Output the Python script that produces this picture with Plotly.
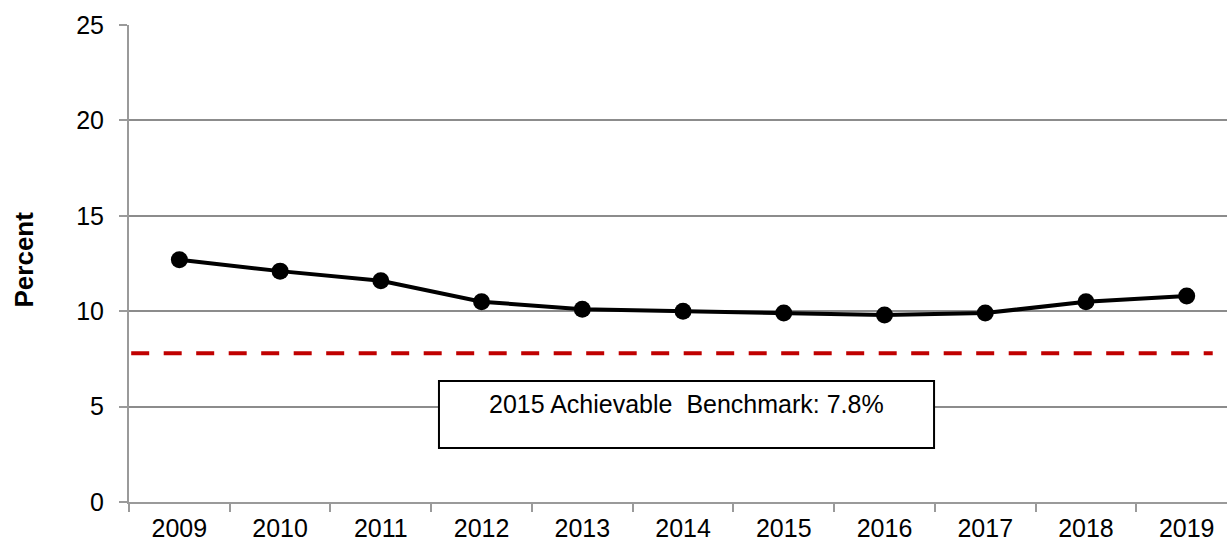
import plotly.graph_objects as go

# Annual rates (percent)
years = ["2009", "2010", "2011", "2012", "2013", "2014",
         "2015", "2016", "2017", "2018", "2019"]
percent = [12.7, 12.1, 11.6, 10.5, 10.1, 10.0, 9.9, 9.8, 9.9, 10.5, 10.8]

# Achievable benchmark
benchmark_value = 7.8
benchmark_label = "2015 Achievable  Benchmark: 7.8%"

y_ticks = [0, 5, 10, 15, 20, 25]

FONT = "Liberation Sans, Arial, sans-serif"
GRID = "#8c8c8c"
AXIS = "#9a9a9a"
SIZE = 25

fig = go.Figure()

fig.add_trace(go.Scatter(
    x=years, y=percent,
    mode="lines+markers",
    line=dict(color="black", width=4),
    marker=dict(color="black", size=17),
    showlegend=False,
    hoverinfo="x+y",
))

# Benchmark reference line
fig.add_shape(
    type="line", xref="paper", yref="y",
    x0=0.002, x1=0.987, y0=benchmark_value, y1=benchmark_value,
    line=dict(color="#c00000", width=4, dash="18px,14.5px"),
    layer="above",
)

# Benchmark text box
fig.add_shape(
    type="rect", xref="paper", yref="paper",
    x0=0.2823, x1=0.7332, y0=0.1132, y1=0.2537,
    line=dict(color="black", width=2),
    fillcolor="white",
    layer="above",
)
fig.add_annotation(
    text=benchmark_label, xref="paper", yref="paper",
    x=0.5073, y=0.2055, xanchor="center", yanchor="middle",
    showarrow=False,
    font=dict(family=FONT, size=SIZE, color="black"),
)

# Y-axis title
fig.add_annotation(
    text="<b>Percent</b>", xref="paper", yref="paper",
    x=0, y=0.5, xshift=-106, yshift=4,
    xanchor="center", yanchor="middle", textangle=-90,
    showarrow=False,
    font=dict(family=FONT, size=26, color="black"),
)

fig.update_layout(
    width=1227, height=545,
    margin=dict(l=129, r=0, t=25, b=43),
    paper_bgcolor="white", plot_bgcolor="white",
    font=dict(family=FONT, size=SIZE, color="black"),
    xaxis=dict(
        type="category", range=[-0.5, 10.4],
        showgrid=False, showline=True, linecolor=AXIS, linewidth=2,
        ticks="outside", tickson="boundaries", ticklen=8,
        tickcolor=AXIS, tickwidth=2,
        tickfont=dict(family=FONT, size=SIZE, color="black"),
        ticklabelstandoff=3,
    ),
    yaxis=dict(
        range=[0, 25], tickvals=y_ticks,
        showgrid=True, gridcolor=GRID, gridwidth=1.5,
        zeroline=False,
        showline=True, linecolor=AXIS, linewidth=2,
        ticks="outside", ticklen=8, tickcolor=AXIS, tickwidth=2,
        tickfont=dict(family=FONT, size=SIZE, color="black"),
        ticklabelstandoff=10,
    ),
)

fig.write_html("out.html")
